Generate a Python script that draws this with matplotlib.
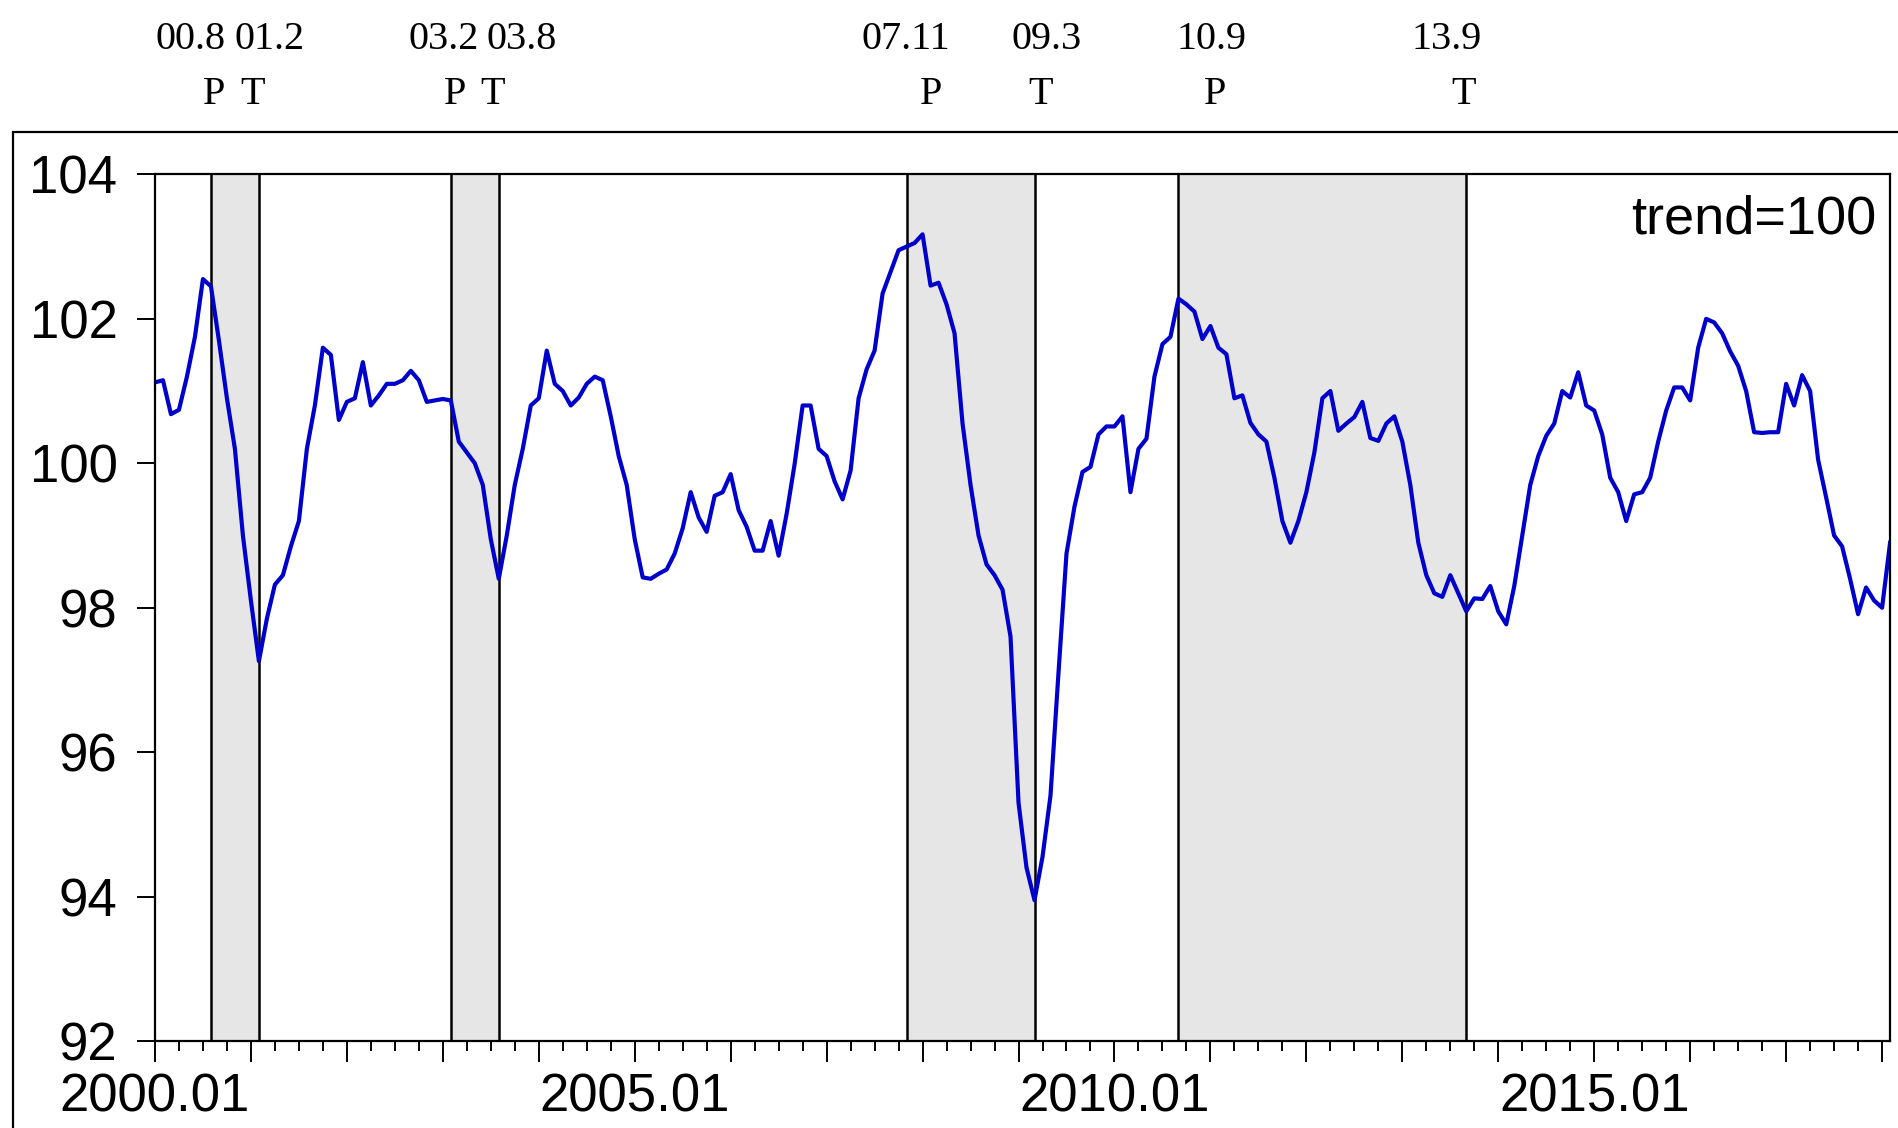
import numpy as np
import matplotlib.pyplot as plt
from matplotlib.patches import Rectangle
from matplotlib.transforms import blended_transform_factory

# ------------------------------- DATA ---------------------------------------
START_YEAR = 2000

# monthly index, 2000.01 onwards (trend = 100)
values = [
    101.12, 101.15, 100.68, 100.74, 101.20, 101.75, 102.55, 102.45, 101.70, 100.90,  # 2000
    100.20, 99.00, 98.10, 97.26, 97.85, 98.32, 98.45, 98.85, 99.20, 100.20,
    100.80, 101.60, 101.50, 100.60, 100.85, 100.90, 101.40, 100.80, 100.94, 101.10,
    101.10, 101.15, 101.28, 101.15, 100.85, 100.87, 100.89, 100.87, 100.30, 100.15,
    100.00, 99.70, 98.95, 98.40, 99.00, 99.70, 100.20, 100.80, 100.90, 101.56,
    101.10, 101.00, 100.80, 100.91, 101.10, 101.20, 101.15, 100.65, 100.10, 99.70,
    98.95, 98.42, 98.40, 98.47, 98.53, 98.75, 99.10, 99.60, 99.25, 99.05,
    99.55, 99.60, 99.85, 99.35, 99.12, 98.79, 98.79, 99.20, 98.72, 99.30,
    99.99, 100.80, 100.80, 100.20, 100.10, 99.75, 99.50, 99.90, 100.90, 101.30,
    101.56, 102.35, 102.65, 102.95, 103.00, 103.05, 103.17, 102.46, 102.50, 102.20,
    101.80, 100.55, 99.70, 99.00, 98.60, 98.45, 98.25, 97.60, 95.30, 94.40,
    93.95, 94.55, 95.40, 97.10, 98.75, 99.40, 99.88, 99.95, 100.40, 100.51,
    100.51, 100.65, 99.60, 100.20, 100.34, 101.20, 101.65, 101.75, 102.28, 102.20,
    102.10, 101.72, 101.90, 101.60, 101.51, 100.90, 100.94, 100.56, 100.40, 100.30,
    99.80, 99.20, 98.90, 99.20, 99.60, 100.15, 100.90, 101.00, 100.45, 100.55,
    100.64, 100.85, 100.35, 100.31, 100.55, 100.65, 100.30, 99.70, 98.90, 98.45,
    98.20, 98.15, 98.45, 98.20, 97.95, 98.13, 98.12, 98.30, 97.95, 97.77,
    98.30, 99.00, 99.70, 100.10, 100.38, 100.55, 101.00, 100.91, 101.26, 100.80,
    100.73, 100.40, 99.80, 99.60, 99.20, 99.57, 99.60, 99.80, 100.30, 100.73,
    101.05, 101.05, 100.87, 101.60, 102.00, 101.95, 101.80, 101.55, 101.35, 101.00,
    100.43, 100.42, 100.43, 100.43, 101.10, 100.80, 101.22, 101.00, 100.05, 99.53,
    99.00, 98.85, 98.40, 97.91, 98.28, 98.10, 98.00, 98.90,
]

# turning points: label, kind, month index from 2000.01
tp_labels = ["00.8", "01.2", "03.2", "03.8", "07.11", "09.3", "10.9", "13.9"]
tp_kinds = ["P", "T", "P", "T", "P", "T", "P", "T"]
tp_months = [7, 13, 37, 43, 94, 110, 128, 164]

# horizontal nudges for the header text (in months)
date_shift = [-2.5, 1.3, -0.9, 2.9, -0.1, 1.5, 4.1, -2.4]
kind_shift = [0.4, -0.8, 0.5, -0.8, 3.1, 0.8, 4.6, -0.4]

# ------------------------------- PLOT ---------------------------------------
x = np.arange(len(values))

fig = plt.figure(figsize=(18.99, 11.28), dpi=100)
ax = fig.add_axes([0.0816, 0.0771, 0.9137, 0.7683])

# shaded P->T phases
for i in range(0, len(tp_months), 2):
    ax.axvspan(tp_months[i], tp_months[i + 1], color="#e6e6e6", lw=0, zorder=0)
for m in tp_months:
    ax.axvline(m, color="black", lw=1.8, zorder=1)

ax.plot(x, values, color="#0000cc", lw=3.0, zorder=2)

ax.set_xlim(0, len(values) - 1)
ax.set_ylim(92, 104)
ax.set_yticks(np.arange(92, 105, 2))

ax.set_xticks(np.arange(0, len(values), 12))
ax.set_xticks(np.arange(0, len(values), 3), minor=True)
ax.set_xticklabels([f"{START_YEAR + i // 12}.{i % 12 + 1:02d}" if i % 60 == 0 else ""
                    for i in range(0, len(values), 12)])

for lab in ax.get_xticklabels() + ax.get_yticklabels():
    lab.set_fontfamily("Liberation Sans")
    lab.set_fontsize(38)

ax.tick_params(axis="x", which="major", length=15, width=1.4, pad=8, direction="out")
ax.tick_params(axis="x", which="minor", length=7, width=1.4, direction="out")
ax.tick_params(axis="y", length=13, width=1.4, pad=14, direction="out")
for sp in ax.spines.values():
    sp.set_linewidth(1.6)

ax.text(0.992, 0.948, "trend=100", transform=ax.transAxes, ha="right", va="center",
        fontfamily="Liberation Sans", fontsize=39)

# header with turning-point dates
trans = blended_transform_factory(ax.transData, fig.transFigure)
for lab, kind, m, ds, ks in zip(tp_labels, tp_kinds, tp_months, date_shift, kind_shift):
    ax.text(m + ds, 0.965, lab, transform=trans, ha="center", va="center",
            fontfamily="Liberation Serif", fontsize=29, clip_on=False)
    ax.text(m + ks, 0.916, kind, transform=trans, ha="center", va="center",
            fontfamily="Liberation Serif", fontsize=29, clip_on=False)

# outer frame (runs off the right and bottom edges)
fig.patches.append(Rectangle((13 / 1899, -0.2), 1.2, 1.2 - 132 / 1128,
                             transform=fig.transFigure, fill=False,
                             edgecolor="black", lw=1.6))

fig.savefig("out.png", dpi=100)
plt.close(fig)
